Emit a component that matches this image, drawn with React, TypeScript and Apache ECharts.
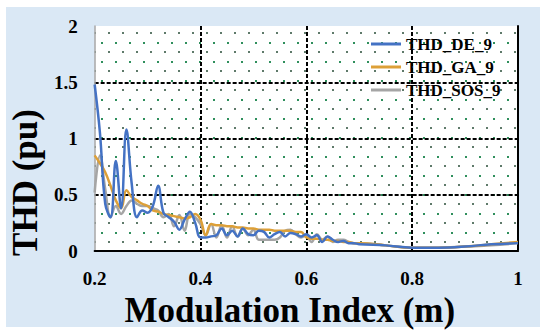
import React, { useEffect, useRef } from "react";
import * as echarts from "echarts";

const mIndex = [
  0.2, 0.21, 0.22, 0.23, 0.24, 0.25, 0.26, 0.27, 0.28, 0.29,
  0.3, 0.31, 0.32, 0.33, 0.34, 0.35, 0.36, 0.37, 0.38, 0.39,
  0.4, 0.41, 0.42, 0.43, 0.44, 0.45, 0.46, 0.47, 0.48, 0.49,
  0.5, 0.51, 0.52, 0.53, 0.54, 0.55, 0.56, 0.57, 0.58, 0.59,
  0.6, 0.61, 0.62, 0.63, 0.64, 0.65, 0.66, 0.67, 0.68, 0.69,
  0.7, 0.75, 0.8, 0.85, 0.9, 0.95, 1.0,
];

const thdDE = [
  1.48, 1.05, 0.42, 0.3, 0.8, 0.38, 1.08, 0.6, 0.3, 0.36,
  0.34, 0.4, 0.58, 0.34, 0.3, 0.26, 0.19, 0.28, 0.35, 0.25,
  0.12, 0.12, 0.13, 0.14, 0.2, 0.14, 0.18, 0.13, 0.2, 0.15,
  0.14, 0.18, 0.17, 0.12, 0.15, 0.17, 0.13, 0.16, 0.15, 0.13,
  0.15, 0.12, 0.14, 0.08, 0.13, 0.1, 0.08, 0.09, 0.07, 0.07,
  0.06, 0.05, 0.03, 0.03, 0.04, 0.06, 0.07,
];

const thdGA = [
  0.85, 0.78, 0.7, 0.58, 0.45, 0.38, 0.54, 0.48, 0.45, 0.42,
  0.4, 0.36, 0.35, 0.33, 0.32, 0.31, 0.3, 0.29, 0.3, 0.33,
  0.28, 0.14, 0.24, 0.23, 0.23, 0.22, 0.22, 0.21, 0.21, 0.2,
  0.2, 0.19, 0.19, 0.19, 0.18, 0.18, 0.18, 0.18, 0.17, 0.17,
  0.12, 0.11, 0.11, 0.1, 0.1, 0.09, 0.09, 0.08, 0.08, 0.07,
  0.07, 0.05, 0.03, 0.03, 0.04, 0.06, 0.08,
];

const thdSOS = [
  0.52, 0.85, 0.55, 0.3, 0.4, 0.33, 0.4, 0.45, 0.42, 0.4,
  0.4, 0.38, 0.36, 0.3, 0.33, 0.22, 0.32, 0.18, 0.33, 0.3,
  0.24, 0.14, 0.24, 0.12, 0.23, 0.12, 0.22, 0.13, 0.2, 0.14,
  0.19, 0.1, 0.1, 0.1, 0.1, 0.12, 0.18, 0.19, 0.15, 0.12,
  0.14, 0.08, 0.15, 0.1, 0.13, 0.08, 0.1, 0.1, 0.08, 0.07,
  0.07, 0.05, 0.03, 0.03, 0.04, 0.05, 0.07,
];

const seriesNames = ["THD_DE_9", "THD_GA_9", "THD_SOS_9"];
const seriesColors = ["#4472C4", "#DDA038", "#A5A5A5"];
const xTicks = { min: 0.2, max: 1, interval: 0.2 };
const yTicks = { min: 0, max: 2, interval: 0.5 };

const FONT = "'Liberation Serif', 'Times New Roman', serif";

function makeDots(): string {
  const c = document.createElement("canvas");
  c.width = 14;
  c.height = 19;
  const ctx = c.getContext("2d")!;
  ctx.fillStyle = "#ffffff";
  ctx.fillRect(0, 0, 14, 19);
  ctx.fillStyle = "#2f8f5c";
  ctx.fillRect(3, 4, 2, 2);
  ctx.fillStyle = "#5f7a6a";
  ctx.fillRect(10, 13, 2, 2);
  return c.toDataURL();
}

export default function App() {
  const ref = useRef<HTMLDivElement>(null);
  useEffect(() => {
    if (!ref.current) return;
    const chart = echarts.init(ref.current, null, { renderer: "svg" });
    const dots = makeDots();
    const labelStyle = {
      fontFamily: FONT,
      fontWeight: "bold" as const,
      fontSize: 19,
      color: "#000",
    };
    const fmt = (v: number) => String(+Number(v).toFixed(1));
    const allData = [thdDE, thdGA, thdSOS];
    chart.setOption({
      animation: false,
      backgroundColor: "#ffffff",
      graphic: [
        {
          type: "rect",
          z: -10,
          silent: true,
          shape: { x: 6, y: 7, width: 534, height: 320 },
          style: { fill: "#dae8f5" },
        },
      ],
      grid: {
        left: 89,
        right: 32,
        top: 26,
        bottom: 85,
        show: true,
        borderWidth: 0,
        backgroundColor: { image: dots, repeat: "repeat" },
      },
      legend: {
        orient: "vertical",
        left: 366,
        top: 30,
        itemWidth: 30,
        itemHeight: 3,
        itemGap: 5,
        icon: "rect",
        data: seriesNames,
        textStyle: { fontFamily: FONT, fontWeight: "bold", fontSize: 17, color: "#000", lineHeight: 18 },
      },
      xAxis: [
        {
          type: "value",
          min: xTicks.min,
          max: xTicks.max,
          interval: xTicks.interval,
          name: "Modulation Index (m)",
          nameLocation: "middle",
          nameGap: 36,
          nameTextStyle: {
            fontFamily: FONT,
            fontWeight: "bold",
            fontSize: 35,
            color: "#000",
            padding: [0, 33, 0, 0],
          },
          axisLine: { lineStyle: { color: "#a6a6a6", width: 1.5 } },
          axisTick: { show: false },
          axisLabel: { ...labelStyle, margin: 18, formatter: fmt },
          splitLine: {
            show: true,
            showMinLine: false,
            showMaxLine: false,
            lineStyle: { color: "#000", type: [4, 2], width: 2 },
          },
        },
        {
          type: "value",
          position: "top",
          min: xTicks.min,
          max: xTicks.max,
          interval: xTicks.interval,
          axisLine: { show: true, lineStyle: { color: "#000", width: 2 } },
          axisTick: { show: false },
          axisLabel: { show: false },
          splitLine: { show: false },
        },
      ],
      yAxis: [
        {
          type: "value",
          min: yTicks.min,
          max: yTicks.max,
          interval: yTicks.interval,
          name: "THD (pu)",
          nameLocation: "middle",
          nameGap: 34,
          nameTextStyle: {
            fontFamily: FONT,
            fontWeight: "bold",
            fontSize: 35,
            color: "#000",
            padding: [0, 88, 0, 0],
          },
          axisLine: { show: true, lineStyle: { color: "#a6a6a6", width: 1.5 } },
          axisTick: { show: false },
          axisLabel: { ...labelStyle, margin: 17, formatter: fmt },
          splitLine: {
            show: true,
            showMinLine: false,
            showMaxLine: false,
            lineStyle: { color: "#000", type: [4, 2], width: 2 },
          },
        },
        {
          type: "value",
          position: "right",
          min: yTicks.min,
          max: yTicks.max,
          interval: yTicks.interval,
          axisLine: { show: true, lineStyle: { color: "#000", width: 2 } },
          axisTick: { show: false },
          axisLabel: { show: false },
          splitLine: { show: false },
        },
      ],
      series: seriesNames.map((name, k) => ({
        name,
        type: "line",
        xAxisIndex: 0,
        yAxisIndex: 0,
        smooth: 0.4,
        showSymbol: false,
        symbol: "none",
        color: seriesColors[k],
        lineStyle: { width: 2.5, color: seriesColors[k] },
        data: mIndex.map((m, i) => [m, allData[k][i]]),
        z: 5 - k,
      })),
    });
    return () => chart.dispose();
  }, []);
  return (
    <div
      ref={ref}
      style={{ position: "absolute", left: 0, top: 0, width: 550, height: 336 }}
    />
  );
}
